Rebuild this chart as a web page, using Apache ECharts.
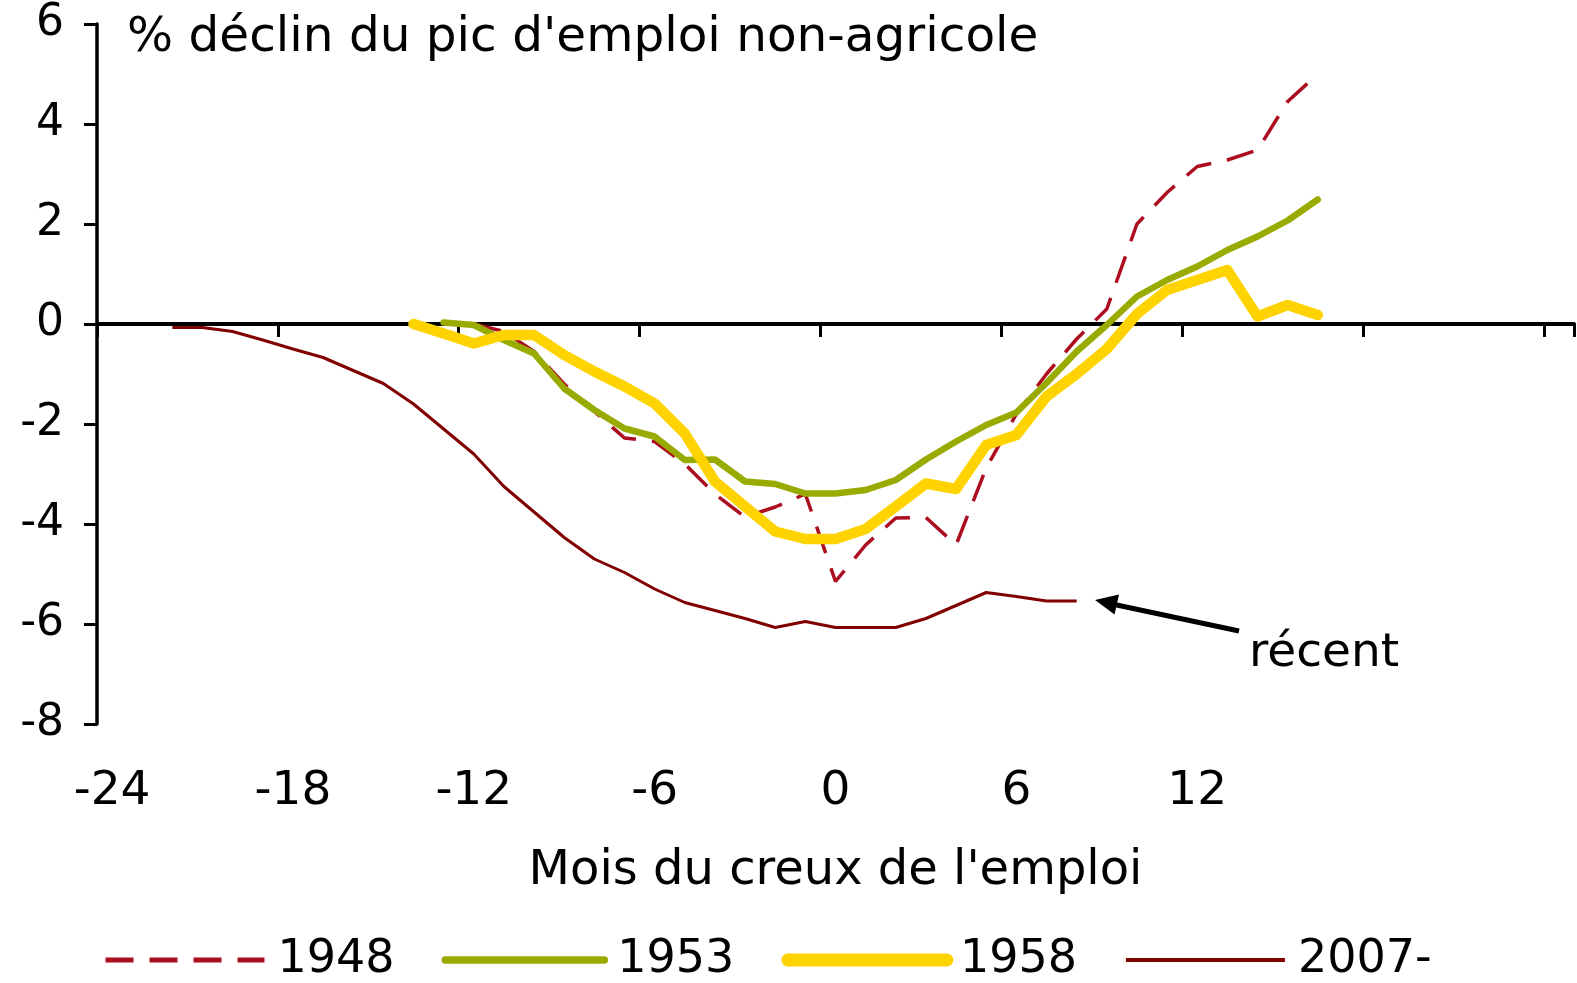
<!DOCTYPE html>
<html>
<head>
<meta charset="utf-8">
<title>Déclin de l'emploi non-agricole</title>
<script src="https://cdn.jsdelivr.net/npm/echarts@6.0.0/dist/echarts.min.js"></script>
<style>
    html, body { margin: 0; padding: 0; background: #fff; }
    #chart { width: 1577px; height: 983px; }
</style>
</head>
<body>
<div id="chart"></div>
<script>
    // mois autour du creux de l'emploi (catégories de l'axe x)
    const months = ['-24','-23','-22','-21','-20','-19','-18','-17','-16','-15','-14','-13','-12',
        '-11','-10','-9','-8','-7','-6','-5','-4','-3','-2','-1','0','1','2','3','4','5','6',
        '7','8','9','10','11','12','13','14','15','16','17','18','19','20','21','22','23','24'];
    const yTicks = [-8, 6, 2];   // min, max, pas

    // chaque série commence à un mois donné
    const start1948 = '-12';
    const values1948 = [0, -0.15, -0.55, -1.2, -1.75, -2.28, -2.35, -2.8, -3.4, -3.86, -3.66, -3.4,
        -5.15, -4.42, -3.88, -3.87, -4.42, -2.88, -1.8, -1.0, -0.3, 0.3, 2.0, 2.63, 3.15, 3.28, 3.48, 4.45, 5.0];

    const start1953 = '-13';
    const values1953 = [0.03, -0.02, -0.32, -0.59, -1.29, -1.72, -2.09, -2.25, -2.72, -2.71, -3.15, -3.2,
        -3.39, -3.39, -3.32, -3.12, -2.71, -2.35, -2.02, -1.77, -1.18, -0.55, -0.02, 0.55, 0.88, 1.15,
        1.48, 1.75, 2.07, 2.49];

    const start1958 = '-14';
    const values1958 = [0, -0.19, -0.39, -0.22, -0.22, -0.62, -0.95, -1.25, -1.59, -2.19, -3.15, -3.65,
        -4.15, -4.3, -4.3, -4.1, -3.65, -3.19, -3.3, -2.42, -2.22, -1.45, -1.0, -0.5, 0.2, 0.68, 0.88,
        1.08, 0.15, 0.38, 0.18];

    const start2007 = '-22';
    const values2007 = [-0.07, -0.07, -0.15, -0.32, -0.5, -0.67, -0.93, -1.19, -1.6, -2.1, -2.6, -3.25,
        -3.76, -4.27, -4.7, -4.97, -5.3, -5.57, -5.73, -5.89, -6.07, -5.95, -6.07, -6.07, -6.07, -5.89,
        -5.63, -5.37, -5.45, -5.54, -5.54];

    const FONT = '"DejaVu Sans", Verdana, sans-serif';

    // aligne une série sur les catégories
    function pad(start, values){
        let out = months.map(() => null);
        let first = months.indexOf(start);
        values.forEach((v, i) => { out[first + i] = v; });
        return out;
    }

    let chart = echarts.init(document.getElementById('chart'));
    let option = {
        animation: false,
        backgroundColor: '#fff',
        title: {
            text: "% déclin du pic d'emploi non-agricole",
            left: 127,
            top: 14,
            padding: 0,
            textStyle: { fontSize: 48.5, fontWeight: 'normal', color: '#000', fontFamily: FONT }
        },
        grid: { left: 97, right: 3, top: 24, bottom: 259 },
        legend: {
            left: 98,
            top: 932,
            itemWidth: 159,
            itemHeight: 14,
            itemGap: 47,
            itemStyle: { opacity: 0 },
            textStyle: { fontSize: 46, color: '#000', fontFamily: FONT, padding: [22, 0, 0, 8] },
            data: [
                { name: '1948', lineStyle: { width: 5 } },
                { name: '1953', lineStyle: { width: 7.5, cap: 'round' } },
                { name: '1958', lineStyle: { width: 13, cap: 'round' } },
                { name: '2007-', lineStyle: { width: 4 } }
            ]
        },
        xAxis: [
            {
                // ligne du zéro avec les graduations
                type: 'category',
                data: months,
                boundaryGap: true,
                axisLine: { show: true, onZero: true, lineStyle: { color: '#000', width: 4 } },
                axisTick: { show: true, interval: 5, alignWithLabel: false, inside: false, length: 13,
                    lineStyle: { color: '#000', width: 3 } },
                axisLabel: { show: false },
                splitLine: { show: false }
            },
            {
                // étiquettes en bas du graphique
                type: 'category',
                data: months,
                boundaryGap: true,
                position: 'bottom',
                axisLine: { show: false, onZero: false },
                axisTick: { show: false },
                axisLabel: {
                    interval: (i) => i % 6 === 0 && i <= 36,
                    fontSize: 47, margin: 44, color: '#000', fontFamily: FONT
                },
                splitLine: { show: false },
                name: "Mois du creux de l'emploi",
                nameLocation: 'middle',
                nameGap: 124,
                nameTextStyle: { fontSize: 48, color: '#000', fontFamily: FONT }
            }
        ],
        yAxis: {
            type: 'value',
            min: yTicks[0],
            max: yTicks[1],
            interval: yTicks[2],
            axisLine: { show: true, onZero: false, lineStyle: { color: '#000', width: 3.5 } },
            axisTick: { show: true, length: 13, lineStyle: { color: '#000', width: 3 } },
            axisLabel: { fontSize: 44, margin: 33, color: '#000', fontFamily: FONT, padding: [14, 0, 0, 0] },
            splitLine: { show: false }
        },
        series: [
            {
                name: '1948', type: 'line', symbol: 'none', silent: true,
                data: pad(start1948, values1948),
                color: '#AC0E1F',
                lineStyle: { color: '#AC0E1F', width: 3.5, type: [28, 16] }
            },
            {
                name: '1953', type: 'line', symbol: 'none', silent: true,
                data: pad(start1953, values1953),
                color: '#99AB00',
                lineStyle: { color: '#99AB00', width: 6.5, cap: 'round', join: 'round' }
            },
            {
                name: '1958', type: 'line', symbol: 'none', silent: true,
                data: pad(start1958, values1958),
                color: '#FFD300',
                lineStyle: { color: '#FFD300', width: 10.5, cap: 'round', join: 'round' }
            },
            {
                name: '2007-', type: 'line', symbol: 'none', silent: true,
                data: pad(start2007, values2007),
                color: '#800000',
                lineStyle: { color: '#800000', width: 3 }
            }
        ],
        graphic: [
            { type: 'line', shape: { x1: 1239, y1: 631, x2: 1112, y2: 604 }, style: { stroke: '#000', lineWidth: 5 } },
            { type: 'polygon', shape: { points: [[1095, 600], [1119, 594.5], [1114.5, 614.5]] }, style: { fill: '#000' } },
            { type: 'text', left: 1249, top: 630, style: { text: 'récent', fontSize: 47, fill: '#000', fontFamily: FONT } }
        ]
    };
    chart.setOption(option);
    window.addEventListener('resize', chart.resize);
</script>
</body>
</html>
